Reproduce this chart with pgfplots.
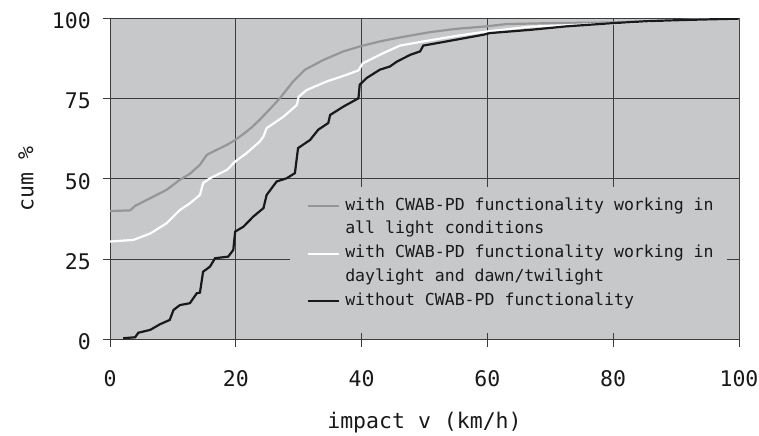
\documentclass[border=0pt]{standalone}
\usepackage{pgfplots}
\pgfplotsset{compat=1.18}
\usepackage{fontspec}
\setmainfont{DejaVu Sans Mono}
\setmonofont{DejaVu Sans Mono}
\definecolor{bg}{RGB}{199,200,202}
\definecolor{gridc}{RGB}{60,60,60}
\definecolor{curvegray}{RGB}{150,150,150}
\definecolor{curveblack}{RGB}{25,25,25}
\definecolor{txt}{RGB}{25,25,25}

\begin{document}
\begin{tikzpicture}
\begin{axis}[
  name=ax,
  scale only axis, width=629bp, height=321.2bp,
  xmin=0, xmax=100, ymin=0, ymax=100,
  xtick={0,20,40,60,80,100}, ytick={0,25,50,75,100},
  axis background/.style={fill=bg},
  grid=major, major grid style={draw=gridc, line width=0.8bp},
  axis line style={draw=gridc, line width=0.8bp},
  tick align=center, major tick length=14bp,
  tick style={draw=gridc, line width=0.8bp},
  xtick pos=left, ytick pos=left,
  /pgf/number format/assume math mode=true,
  tick label style={font=\fontsize{21.6}{24}\selectfont, text=txt, inner sep=0pt},
  xticklabel style={anchor=center, yshift=-32.5bp},
  yticklabel style={anchor=east, xshift=-12bp, yshift=-2.5bp},
  xlabel={impact v (km/h)}, ylabel={cum \%},
  label style={font=\fontsize{21.6}{24}\selectfont, text=txt, inner sep=0pt},
  xlabel style={at={(axis description cs:0.5,-0.26)}, anchor=center},
  ylabel style={at={(axis description cs:-0.1335,0.5)}, anchor=center},
  legend style={at={(axis cs:31.3,44.1)}, anchor=north west, draw=none, fill=none,
    inner sep=0pt, font=\fontsize{16.6}{18}\selectfont, text=txt,
    row sep=7.8bp, column sep=5bp,
    nodes={inner sep=0pt, text height=12bp, text depth=4bp}},
  legend cell align=left,
  legend image code/.code={\draw[#1] (0bp,0bp) -- (31bp,0bp);},
]
\fill[bg] (axis cs:28.6,2) rectangle (axis cs:98.1,47.5);
\draw[draw=gray, line width=0.8bp] (rel axis cs:1,0) -- (rel axis cs:1,1);

\addplot[curvegray, line width=2.2bp] coordinates {
(0,40.0) (3.2,40.2) (4,41.6) (6.4,44) (9,46.6) (11.1,49.7) (12.7,51.6) (14.3,54.4)
(15.4,57.5) (16.4,58.5) (18.6,60.6) (19.9,62.1) (21.7,64.7) (22.5,66) (23.8,68.4)
(25.4,71.7) (27,75.1) (29.1,80.3) (31,84) (33.9,87) (37.1,89.7) (40,91.4) (42.9,92.8)
(46,94) (50.9,95.7) (55,96.7) (59.9,97.5) (63,98.2) (70,98.5) (80,98.7) (85,99)
(92,99.5) (100,99.9)};
\addlegendentry{with CWAB-PD functionality working in}
\addlegendimage{empty legend}
\addlegendentry{all light conditions}

\addplot[white, line width=2.2bp] coordinates {
(0,30.5) (3.7,31) (6.4,33) (9,36.2) (11.1,40.3) (12.7,42.4) (14.3,45) (14.8,48.7)
(15.9,50.2) (18.6,52.8) (19.9,55.4) (21.7,58) (23.8,61.6) (24.4,63.2) (24.9,65.8)
(27.6,69.4) (29.7,73) (30,75.6) (31.3,77.7) (34.4,80.3) (37.6,82.4) (39.5,83.8)
(40.2,86) (43.5,89.2) (46.1,91.5) (49.8,92.8) (55,94.5) (59.9,95.9) (66.8,97.4)
(74.7,98) (80,98.4) (85.3,99) (91.7,99.5) (100,99.9)};
\addlegendentry{with CWAB-PD functionality working in}
\addlegendimage{empty legend}
\addlegendentry{daylight and dawn/twilight}

\addplot[curveblack, line width=2.2bp] coordinates {
(2.1,0.4) (4,0.7) (4.5,2.1) (6.4,3) (7.9,4.7) (9.5,6.1) (10.1,9.2) (11.1,10.7)
(12.7,11.3) (13.8,14.4) (14.3,14.6) (14.8,21.1) (15.9,22.7) (16.7,25.3) (18.8,25.8)
(19.6,27.9) (19.9,33.6) (21.2,35.1) (22.8,38.3) (24.4,40.9) (24.9,45) (26.5,49.2)
(28.1,50.2) (29.4,51.8) (29.9,59.6) (31.8,62.1) (33.1,65.3) (34.7,67.4) (35,69.9)
(37.1,72.5) (39.5,75.1) (39.7,79.3) (40.8,81.4) (42.9,84) (44.5,85) (45.6,86.5)
(47.7,88.6) (49.3,89.7) (49.8,91.5) (53.5,92.8) (59.4,94.9) (60.4,95.4) (66.8,96.4)
(72.6,97.5) (80,98.5) (85.3,99.1) (91.7,99.5) (100,99.9)};
\addlegendentry{without CWAB-PD functionality}
\end{axis}
\pgfresetboundingbox
\useasboundingbox (ax.south west) ++(-110bp,-96.5bp) rectangle ++(759bp,436bp);
\end{tikzpicture}
\end{document}
